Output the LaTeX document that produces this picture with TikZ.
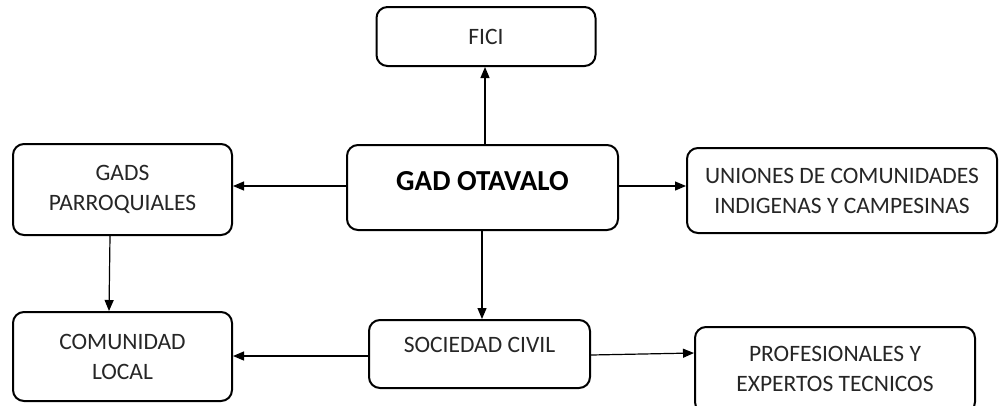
\documentclass[tikz,border=0pt]{standalone}
\usepackage{fontspec}
\setmainfont{Carlito}
\usetikzlibrary{arrows.meta}
\begin{document}
\begin{tikzpicture}[x=1pt,y=-1pt,
  box/.style={draw=black, line width=2pt, rounded corners=11pt, fill=white, inner sep=0pt},
  txt/.style={font=\fontsize{23.5}{30}\selectfont, align=center, text=black!85, inner sep=0pt},
  conn/.style={draw=black, line width=1.2pt, -{Triangle[length=11pt,width=9pt]}}]
\useasboundingbox (0,0) rectangle (1000,405);
\fill[white] (0,0) rectangle (1000,405);
% boxes
\node[box, minimum width=219pt, minimum height=59pt, txt] (fici) at (486,36.5) {FICI};
\node[box, minimum width=271pt, minimum height=85pt] (gad) at (482.5,187.5) {};
\node[font=\bfseries\fontsize{29}{34}\selectfont, inner sep=0pt] (gadt) at (482.5,181) {GAD OTAVALO};
\node[box, minimum width=219pt, minimum height=91pt, txt] (gads) at (122.5,189.5) {GADS\\PARROQUIALES};
\node[box, minimum width=310pt, minimum height=85pt, txt] (uni) at (842,190.5) {UNIONES DE COMUNIDADES\\INDIGENAS Y CAMPESINAS};
\node[box, minimum width=219pt, minimum height=89pt, txt] (com) at (122.5,356.5) {COMUNIDAD\\LOCAL};
\node[box, minimum width=221pt, minimum height=68pt] (soc) at (479.5,354) {};
\node[txt] (soct) at (479.5,345) {SOCIEDAD CIVIL};
\node[box, minimum width=280pt, minimum height=86pt] (prof) at (835,370) {};
\node[txt] (proft) at (835,369) {PROFESIONALES Y\\EXPERTOS TECNICOS};
% connectors
\draw[conn] (gad.north -| fici.south) ++(-1,0) coordinate (a1) -- (a1 |- fici.south);
\draw[conn] (gad.west |- 0,186) coordinate (a2) -- (a2 -| gads.east);
\draw[conn] (gad.east |- 0,186) coordinate (a3) -- (a3 -| uni.west);
\draw[conn] (gad.south -| soc.north) ++(2.5,0) coordinate (a4) -- (a4 |- soc.north);
\draw[conn] (gads.south) ++(-12.5,0) coordinate (a5) -- ([xshift=-13.5pt]com.north);
\draw[conn] (soc.west |- 0,356) coordinate (a6) -- (a6 -| com.east);
\draw[conn] ([yshift=-1pt]soc.east) -- ([yshift=17pt]prof.west);
\end{tikzpicture}
\end{document}
